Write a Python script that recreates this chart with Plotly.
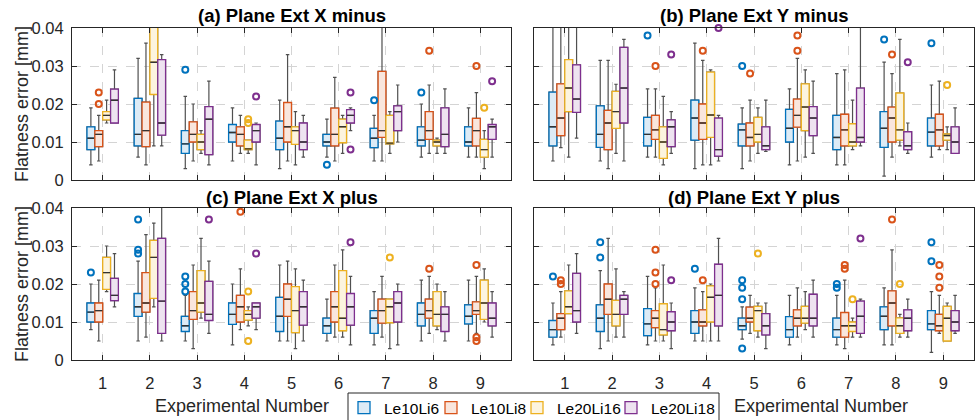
import plotly.graph_objects as go

SERIES = ["Le10Li6", "Le10Li8", "Le20Li16", "Le20Li18"]
GROUPS = [1, 2, 3, 4, 5, 6, 7, 8, 9]
X_TICKS = ["1", "2", "3", "4", "5", "6", "7", "8", "9"]
Y_TICKS = [0, 0.01, 0.02, 0.03, 0.04]
Y_TICKTEXT = ["0", "0.01", "0.02", "0.03", "0.04"]
TITLES = ["(a) Plane Ext X minus", "(b) Plane Ext Y minus",
          "(c) Plane Ext X plus", "(d) Plane Ext Y plus"]

# ---------------- Panel (a) Plane Ext X minus ----------------
# each list: [Le10Li6, Le10Li8, Le20Li16, Le20Li18], 9 groups
a_lo = [[.004, .006, .003, .005, .003, .006, .005, .006, .006],
        [.005, .004, .005, .007, .005, .005, .005, .007, .006],
        [.015, .009, .007, .007, .004, .007, .007, .007, .003],
        [.015, .009, .004, .004, .006, .013, .010, .007, .006]]
a_q1 = [[.008, .009, .007, .010, .008, .009, .0085, .009, .009],
        [.0088, .0088, .010, .009, .010, .009, .0112, .0107, .009],
        [.0158, .0225, .008, .008, .0094, .0098, .0095, .009, .006],
        [.015, .0118, .0067, .010, .008, .015, .013, .0088, .0107]]
a_med = [[.011, .012, .0095, .0125, .011, .010, .011, .0105, .010],
         [.012, .013, .012, .012, .014, .012, .013, .013, .013],
         [.017, .031, .010, .0082, .013, .014, .0097, .010, .008],
         [.021, .015, .016, .013, .010, .017, .018, .012, .014]]
a_q3 = [[.014, .0215, .013, .0146, .0155, .012, .0136, .014, .014],
        [.013, .0205, .0153, .014, .0204, .0189, .0286, .018, .0162],
        [.018, .045, .012, .0105, .014, .016, .017, .0105, .0107],
        [.0239, .0317, .0193, .0146, .015, .0185, .0195, .019, .0146]]
a_hi = [[.019, .032, .022, .019, .021, .016, .017, .020, .019],
        [.017, .036, .020, .017, .033, .027, .045, .025, .023],
        [.021, .050, .013, .0105, .018, .017, .018, .011, .013],
        [.029, .033, .026, .015, .017, .019, .025, .024, .016]]
a_out = [[(3, .029), (6, .004), (7, .021), (8, .023)],
         [(1, .023), (1, .020), (8, .034), (9, .030)],
         [(4, .016), (4, .015), (9, .019)],
         [(4, .022), (6, .023), (6, .008), (9, .026)]]

# ---------------- Panel (b) Plane Ext Y minus ----------------
b_lo = [[.005, .005, .006, .003, .003, .004, .004, .001, .006],
        [.0085, .003, .006, .004, .005, .005, .004, .006, .008],
        [.006, .007, .004, .004, .007, .006, .008, .009, .008],
        [.011, .005, .007, .005, .0075, .007, .009, .007, .007]]
b_q1 = [[.009, .0086, .009, .0105, .009, .010, .008, .0086, .009],
        [.0117, .008, .0107, .0107, .009, .0139, .009, .010, .009],
        [.018, .0136, .0057, .0112, .010, .013, .009, .0105, .0105],
        [.0178, .015, .0088, .0063, .008, .0117, .010, .008, .007]]
b_med = [[.014, .012, .012, .0163, .0132, .0136, .0112, .0136, .0126],
         [.0163, .015, .0132, .015, .0112, .017, .0132, .0163, .0132],
         [.0242, .018, .010, .0171, .012, .0192, .010, .0132, .0117],
         [.0213, .0242, .014, .008, .009, .0163, .0112, .009, .010]]
b_q3 = [[.0231, .0195, .0165, .021, .0147, .0186, .017, .018, .0163],
        [.0253, .0183, .017, .020, .015, .0213, .0173, .0192, .0173],
        [.0317, .0233, .014, .0284, .0165, .0253, .0148, .0229, .0121],
        [.0303, .0349, .0158, .0163, .014, .0193, .0242, .0127, .014]]
b_hi = [[.045, .0315, .024, .036, .019, .024, .028, .031, .025],
        [.045, .0315, .024, .0315, .021, .032, .029, .028, .026],
        [.045, .0252, .022, .029, .019, .029, .021, .037, .014],
        [.045, .037, .018, .017, .021, .026, .045, .015, .019]]
b_out = [[(3, .038), (5, .030), (8, .037), (9, .036)],
         [(3, .030), (4, .034), (5, .028), (6, .038), (6, .034), (8, .033)],
         [(9, .025)],
         [(3, .033), (4, .040), (8, .031)]]

# ---------------- Panel (c) Plane Ext X plus ----------------
c_lo = [[.008, .005, .005, .004, .005, .005, .004, .005, .005],
        [.005, .006, .003, .008, .005, .006, .006, .007, .007],
        [.018, .014, .011, .009, .003, .006, .003, .008, .010],
        [.014, .005, .007, .008, .005, .004, .004, .005, .006]]
c_q1 = [[.010, .0115, .0075, .0094, .0075, .007, .007, .009, .0095],
        [.010, .0126, .0107, .010, .0115, .010, .0097, .011, .012],
        [.0186, .0162, .0126, .0105, .0072, .0077, .0098, .009, .0107],
        [.0156, .007, .0104, .011, .0092, .0092, .010, .0075, .009]]
c_med = [[.0126, .014, .009, .012, .0115, .009, .011, .012, .0115],
         [.013, .015, .013, .014, .016, .014, .013, .013, .013],
         [.023, .027, .015, .012, .013, .011, .014, .012, .015],
         [.017, .0155, .012, .014, .014, .014, .015, .012, .011]]
c_q3 = [[.015, .0175, .0115, .015, .0165, .011, .013, .015, .0145],
        [.015, .023, .018, .017, .020, .018, .016, .016, .0153],
        [.027, .0315, .0235, .013, .0193, .0235, .016, .018, .021],
        [.0215, .032, .0207, .015, .018, .0175, .018, .014, .015]]
c_hi = [[.020, .026, .017, .020, .025, .016, .018, .021, .021],
        [.021, .033, .025, .024, .026, .025, .022, .022, .022],
        [.030, .036, .032, .014, .024, .029, .016, .020, .024],
        [.028, .045, .026, .015, .021, .022, .020, .018, .018]]
c_out = [[(1, .023), (2, .037), (2, .029), (2, .028), (3, .022), (3, .020), (3, .018)],
         [(4, .039), (8, .024), (9, .025), (9, .006), (9, .005)],
         [(4, .018), (4, .005), (7, .027)],
         [(3, .037), (4, .028), (6, .031)]]

# ---------------- Panel (d) Plane Ext Y plus ----------------
d_lo = [[.004, .003, .004, .005, .0055, .004, .004, .004, .002],
        [.006, .005, .005, .005, .007, .006, .003, .004, .007],
        [.0122, .006, .005, .005, .006, .008, .006, .006, .005],
        [.007, .006, .003, .005, .003, .006, .006, .006, .007]]
d_q1 = [[.006, .0075, .0064, .007, .008, .006, .006, .008, .008],
        [.008, .012, .0085, .009, .010, .009, .006, .009, .0077],
        [.0122, .009, .0066, .010, .0077, .0097, .0075, .007, .005],
        [.010, .012, .0077, .009, .0066, .009, .007, .0077, .0077]]
d_med = [[.008, .011, .0095, .010, .009, .008, .008, .0115, .0095],
         [.011, .016, .011, .010, .011, .011, .009, .015, .009],
         [.014, .012, .008, .0165, .013, .011, .009, .009, .011],
         [.013, .016, .010, .017, .009, .011, .0115, .011, .010]]
d_q3 = [[.0104, .0145, .0135, .013, .011, .0114, .011, .014, .013],
        [.0122, .020, .013, .0132, .0139, .0132, .0125, .0182, .012],
        [.0182, .0157, .0148, .0195, .0141, .0141, .010, .0111, .0141],
        [.0228, .017, .0127, .0252, .0122, .0173, .0155, .0132, .013]]
d_hi = [[.015, .0235, .022, .019, .014, .017, .017, .019, .018],
        [.018, .032, .019, .018, .017, .019, .021, .029, .017],
        [.025, .024, .025, .020, .015, .018, .011, .012, .015],
        [.028, .018, .015, .032, .015, .021, .016, .016, .017]]
d_out = [[(1, .022), (2, .031), (2, .027), (4, .024), (5, .021), (5, .019), (5, .016),
          (5, .003), (7, .020), (7, .019), (9, .031), (9, .026)],
         [(1, .021), (1, .020), (3, .029), (3, .023), (3, .020), (4, .021), (7, .025),
          (7, .024), (8, .037), (9, .025), (9, .022), (9, .019)],
         [(5, .028), (7, .016), (8, .020)],
         [(3, .021), (7, .032)]]

# ---------------- styling ----------------
LINE_COLORS = ["#0072BD", "#D95319", "#EDB120", "#7E2F8E"]
FILL_COLORS = ["#DCEBF6", "#F9E6DD", "#FCF4DF", "#EEE3F0"]
OFFSETS = [-0.25, -0.083, 0.083, 0.25]
BOX_W = 0.165
WHISKER_COLOR = "#505050"
MEDIAN_COLOR = "#333333"
AX_COLOR = "#262626"
FONT = "Liberation Sans"
LEGEND_IDS = ["legend", "legend2", "legend3", "legend4"]
LEGEND_X = [344, 431, 517, 611]   # pixel x of each legend entry

panels = [
    (a_lo, a_q1, a_med, a_q3, a_hi, a_out, "x", "y"),
    (b_lo, b_q1, b_med, b_q3, b_hi, b_out, "x2", "y2"),
    (c_lo, c_q1, c_med, c_q3, c_hi, c_out, "x3", "y3"),
    (d_lo, d_q1, d_med, d_q3, d_hi, d_out, "x4", "y4"),
]

fig = go.Figure()
for p, (lo, q1, med, q3, hi, out, xa, ya) in enumerate(panels):
    for s in range(4):
        xs = [g + OFFSETS[s] for g in GROUPS]
        # whiskers (gray)
        fig.add_trace(go.Box(
            x=xs, q1=q1[s], median=med[s], q3=q3[s],
            lowerfence=lo[s], upperfence=hi[s],
            width=BOX_W, whiskerwidth=0.45,
            line=dict(color=WHISKER_COLOR, width=1.2),
            fillcolor="rgba(0,0,0,0)", boxpoints=False,
            showlegend=False, hoverinfo="skip", xaxis=xa, yaxis=ya))
        # colored box
        fig.add_trace(go.Box(
            x=xs, q1=q1[s], median=med[s], q3=q3[s],
            lowerfence=q1[s], upperfence=q3[s],
            width=BOX_W, whiskerwidth=0,
            line=dict(color=LINE_COLORS[s], width=1.3),
            fillcolor=FILL_COLORS[s], boxpoints=False,
            name=SERIES[s], legendgroup=SERIES[s], showlegend=(p == 0),
            legend=LEGEND_IDS[s],
            hoverinfo="skip", xaxis=xa, yaxis=ya))
        # median (dark)
        fig.add_trace(go.Box(
            x=xs, q1=med[s], median=med[s], q3=med[s],
            lowerfence=med[s], upperfence=med[s],
            width=BOX_W * 0.92, whiskerwidth=0,
            line=dict(color=MEDIAN_COLOR, width=1.4),
            fillcolor="rgba(0,0,0,0)", boxpoints=False,
            showlegend=False, hoverinfo="skip", xaxis=xa, yaxis=ya))
        # outliers
        if out[s]:
            fig.add_trace(go.Scatter(
                x=[g + OFFSETS[s] for g, v in out[s]], y=[v for g, v in out[s]],
                mode="markers", cliponaxis=False,
                marker=dict(symbol="circle-open", size=6, color=LINE_COLORS[s],
                            line=dict(width=2, color=LINE_COLORS[s])),
                showlegend=False, hoverinfo="skip", xaxis=xa, yaxis=ya))

XD_L = [72 / 976, 511 / 976]
XD_R = [534 / 976, 974 / 976]
YD_T = [1 - 180 / 420, 1 - 28 / 420]
YD_B = [1 - 360 / 420, 1 - 208 / 420]

common_x = dict(range=[0.35, 9.65], tickvals=GROUPS, ticktext=X_TICKS,
                showline=True, mirror="ticks", linecolor=AX_COLOR, linewidth=1,
                ticks="inside", ticklen=5, tickcolor=AX_COLOR,
                showgrid=True, gridcolor="#d4d4d4", griddash="dash", gridwidth=1,
                zeroline=False, tickfont=dict(family=FONT, size=16.5, color=AX_COLOR),
                fixedrange=True)
common_y = dict(range=[0, 0.04], tickvals=Y_TICKS, ticktext=Y_TICKTEXT,
                showline=True, mirror="ticks", linecolor=AX_COLOR, linewidth=1,
                ticks="inside", ticklen=5, tickcolor=AX_COLOR,
                showgrid=True, gridcolor="#d4d4d4", griddash="dash", gridwidth=1,
                zeroline=False, tickfont=dict(family=FONT, size=16.5, color=AX_COLOR),
                fixedrange=True)

legend_common = dict(orientation="h", xanchor="left", y=1 - 408 / 420, yanchor="middle",
                     bgcolor="rgba(0,0,0,0)", borderwidth=0,
                     font=dict(family=FONT, size=15.5, color="#000000"))
legends = {}
for i, lid in enumerate(LEGEND_IDS):
    legends[lid] = dict(legend_common, x=LEGEND_X[i] / 976)

fig.update_layout(
    width=976, height=420, autosize=False,
    margin=dict(l=0, r=0, t=0, b=0, autoexpand=False),
    paper_bgcolor="white", plot_bgcolor="white",
    boxmode="overlay",
    font=dict(family=FONT, color=AX_COLOR),
    xaxis=dict(common_x, domain=XD_L, anchor="y", showticklabels=False),
    yaxis=dict(common_y, domain=YD_T, anchor="x", showticklabels=True, ticklabelstandoff=4),
    xaxis2=dict(common_x, domain=XD_R, anchor="y2", showticklabels=False),
    yaxis2=dict(common_y, domain=YD_T, anchor="x2", showticklabels=False),
    xaxis3=dict(common_x, domain=XD_L, anchor="y3", showticklabels=True, ticklabelstandoff=8),
    yaxis3=dict(common_y, domain=YD_B, anchor="x3", showticklabels=True, ticklabelstandoff=4),
    xaxis4=dict(common_x, domain=XD_R, anchor="y4", showticklabels=True, ticklabelstandoff=8),
    yaxis4=dict(common_y, domain=YD_B, anchor="x4", showticklabels=False),
    **legends,
)

# legend frame
fig.add_shape(type="rect", xref="paper", yref="paper",
              x0=348 / 976, x1=719 / 976, y0=1 - 422 / 420, y1=1 - 393 / 420,
              line=dict(color=AX_COLOR, width=1), fillcolor="white", layer="above")

ann = []
title_pos = [(291.5, 16), (754, 16), (291.5, 197.5), (754, 197.5)]
for t, (px, py) in zip(TITLES, title_pos):
    ann.append(dict(text="<b>" + t + "</b>", x=px / 976, y=1 - py / 420, xref="paper", yref="paper",
                    xanchor="center", yanchor="middle", showarrow=False,
                    font=dict(family=FONT, size=18.5, color="#000000")))
for py in (104, 284):
    ann.append(dict(text="Flatness error [mm]", x=22 / 976, y=1 - py / 420, xref="paper", yref="paper",
                    xanchor="center", yanchor="middle", textangle=-90, showarrow=False,
                    font=dict(family=FONT, size=18, color=AX_COLOR)))
for px in (242, 821):
    ann.append(dict(text="Experimental Number", x=px / 976, y=1 - 406 / 420, xref="paper", yref="paper",
                    xanchor="center", yanchor="middle", showarrow=False,
                    font=dict(family=FONT, size=18, color=AX_COLOR)))
fig.update_layout(annotations=ann)

fig.write_html("out.html")
